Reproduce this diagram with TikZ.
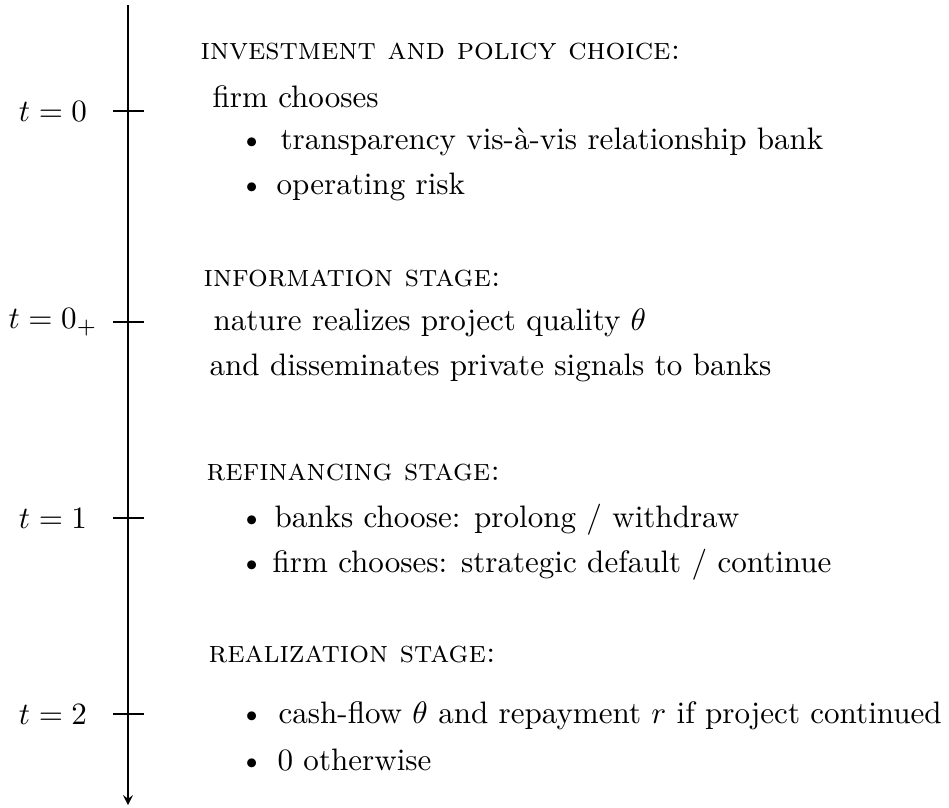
\documentclass[tikz,border=0pt]{standalone}
\usepackage{amsmath}

\newcommand{\stagehead}[1]{\textsc{#1}}
\newcommand{\dotitem}{\textbullet}

\begin{document}
\begin{tikzpicture}[x=0.322pt,y=-0.322pt]
\tikzset{
  line/.style={inner sep=0pt,anchor=base west},
  tlabel/.style={inner sep=0pt,anchor=center},
  tick/.style={line width=0.4pt},
}
\useasboundingbox (0,0) rectangle (949,807);
\newcommand{\ax}{128}
\newcommand{\tl}{113}
\newcommand{\tr}{144}
\newcommand{\bx}{239}
% time axis
\coordinate (top) at (\ax,5);
\coordinate (bot) at (\ax,805);
\draw[-stealth] (top) -- (bot);
% ticks
\coordinate (k0l) at (\tl,111); \coordinate (k0r) at (\tr,111);
\coordinate (k1l) at (\tl,322); \coordinate (k1r) at (\tr,322);
\coordinate (k2l) at (\tl,518); \coordinate (k2r) at (\tr,518);
\coordinate (k3l) at (\tl,714); \coordinate (k3r) at (\tr,714);
\draw[tick] (k0l) -- (k0r);
\draw[tick] (k1l) -- (k1r);
\draw[tick] (k2l) -- (k2r);
\draw[tick] (k3l) -- (k3r);
% dates
\node[tlabel] (t0) at (53,111) {$t=0$};
\node[tlabel] (t1) at (53,322) {$t=0_+$};
\node[tlabel] (t2) at (53,518) {$t=1$};
\node[tlabel] (t3) at (53,714) {$t=2$};
% investment and policy choice
\node[line] (h0) at (200,59) {\stagehead{investment and policy choice:}};
\node[line] (a1) at (212,107) {firm chooses};
\node[line] (b1) at (\bx,149) {\dotitem};
\node[line] (a2) at (280,149) {transparency vis-\`a-vis relationship bank};
\node[line] (b2) at (\bx,194) {\dotitem};
\node[line] (a3) at (276,194) {operating risk};
% information stage
\node[line] (h1) at (203,286) {\stagehead{information stage:}};
\node[line] (c1) at (213,330) {nature realizes project quality $\theta$};
\node[line] (c2) at (209,375) {and disseminates private signals to banks};
% refinancing stage
\node[line] (h2) at (206,480) {\stagehead{refinancing stage:}};
\node[line] (b3) at (\bx,527) {\dotitem};
\node[line] (d1) at (274,527) {banks choose: prolong / withdraw};
\node[line] (b4) at (\bx,572) {\dotitem};
\node[line] (d2) at (272,572) {firm chooses: strategic default / continue};
% realization stage
\node[line] (h3) at (208,662) {\stagehead{realization stage:}};
\node[line] (b5) at (\bx,723) {\dotitem};
\node[line] (e1) at (278,723) {cash-flow $\theta$ and repayment $r$ if project continued};
\node[line] (b6) at (\bx,770) {\dotitem};
\node[line] (e2) at (277,770) {0 otherwise};
\end{tikzpicture}
\end{document}
